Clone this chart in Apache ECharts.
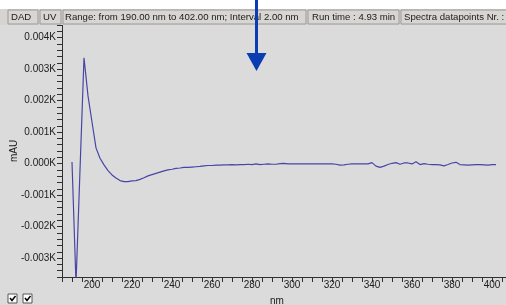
<!DOCTYPE html>
<html>
<head>
<meta charset="utf-8">
<script src="https://cdn.jsdelivr.net/npm/echarts@6/dist/echarts.min.js"></script>
<style>
  html, body {margin: 0; padding: 0; background: #dcdbdc;}
  #chart {width: 506px; height: 305px;}
</style>
</head>
<body>
<div id="chart"></div>
<script>
// DAD spectrum, 190-402 nm every 2 nm, values in K mAU
const wavelengths = [
  190, 192, 194, 196, 198, 200, 202, 204, 206, 208, 210, 212, 214, 216, 218, 220,
  222, 224, 226, 228, 230, 232, 234, 236, 238, 240, 242, 244, 246, 248, 250, 252,
  254, 256, 258, 260, 262, 264, 266, 268, 270, 272, 274, 276, 278, 280, 282, 284,
  286, 288, 290, 292, 294, 296, 298, 300, 302, 304, 306, 308, 310, 312, 314, 316,
  318, 320, 322, 324, 326, 328, 330, 332, 334, 336, 338, 340, 342, 344, 346, 348,
  350, 352, 354, 356, 358, 360, 362, 364, 366, 368, 370, 372, 374, 376, 378, 380,
  382, 384, 386, 388, 390, 392, 394, 396, 398, 400, 402,
]
const absorbance = [
  0.00005, -0.0038, -0.0002, 0.00336, 0.00215, 0.00132, 0.00050, 0.00017,
  -0.00004, -0.00022, -0.00036, -0.00046, -0.00054, -0.00057, -0.00057, -0.00055,
  -0.00054, -0.00050, -0.00045, -0.00039, -0.00035, -0.00031, -0.00027, -0.00023,
  -0.00020, -0.00018, -0.00015, -0.00014, -0.00012, -0.00012, -0.00011, -0.00010,
  -0.00009, -0.00007, -0.00006, -0.00006, -0.00005, -0.00005, -0.00004, -0.00004,
  -0.00003, -0.00004, -0.00003, -0.00003, -0.00002, -0.00003, -0.00001, -0.00003,
  -0.00002, -0.00001, -0.00002, -0.00002, 0.00000, 0.00001, -0.00001, -0.00001,
  -0.00001, -0.00001, -0.00001, -0.00001, -0.00001, -0.00001, -0.00001, -0.00001,
  -0.00001, -0.00001, -0.00002, -0.00005, -0.00004, -0.00002, -0.00001, -0.00001,
  -0.00001, -0.00001, -0.00001, 0.00003, -0.00008, -0.00012, -0.00008, -0.00003,
  0.00001, 0.00003, -0.00002, 0.00002, 0.00002, -0.00001, 0.00006, -0.00003,
  0.00000, -0.00002, -0.00003, -0.00003, -0.00004, -0.00007, -0.00003, 0.00002,
  0.00004, -0.00003, -0.00004, -0.00005, -0.00004, -0.00003, -0.00003, -0.00004,
  -0.00005, -0.00003, -0.00003,
]
const headerCells = ["DAD", "UV", "Range: from 190.00 nm to 402.00 nm; Interval 2.00 nm", "Run time : 4.93 min", "Spectra datapoints Nr. :"]

const FONT = "Liberation Sans"
const TEXT = "#202020"
const LINE = "#4646a4"
const ARROW = "#0b3db2"

// header strip: cell boxes [x, width, text x]
const cellBoxes = [[8, 30, 11], [40, 21, 43], [63, 243, 65], [308, 91, 312], [401, 110, 404]]

const graphics = [
  {type: "rect", shape: {x: 0, y: 0, width: 506, height: 9}, style: {fill: "#ffffff"}, z: 10},
  {type: "rect", shape: {x: 0, y: 9, width: 506, height: 16}, style: {fill: "#d6d4d0"}, z: 10},
]
cellBoxes.forEach(([x, w, tx], i) => {
  graphics.push({type: "rect", shape: {x: x, y: 10, width: w, height: 14}, style: {fill: "#d8d6d2", stroke: "#9a9a9a", lineWidth: 1}, z: 11})
  graphics.push({type: "text", x: tx, y: 17, style: {text: headerCells[i], font: `9.6px "${FONT}"`, fill: TEXT, verticalAlign: "middle"}, z: 12})
})
// blue arrow annotation
graphics.push({type: "line", shape: {x1: 256.5, y1: 0, x2: 256.5, y2: 56}, style: {stroke: ARROW, lineWidth: 3}, z: 20})
graphics.push({type: "polygon", shape: {points: [[246.5, 53], [266.5, 53], [256.5, 71]]}, style: {fill: ARROW}, z: 20})
// two ticked checkboxes in the bottom left corner
;[8, 23].forEach(x => {
  graphics.push({type: "rect", shape: {x: x, y: 294, width: 9, height: 9}, style: {fill: "#ffffff", stroke: "#555555", lineWidth: 1}, z: 20})
  graphics.push({type: "polyline", shape: {points: [[x + 2, 298], [x + 4, 300.5], [x + 7.5, 296]]}, style: {stroke: "#000000", lineWidth: 1.5, fill: null}, z: 21})
})

const chart = echarts.init(document.getElementById("chart"), null, {renderer: "canvas"})
chart.setOption({
  backgroundColor: "#dcdbdc",
  animation: false,
  grid: {left: 62, top: 25, width: 444, height: 252, outerBoundsMode: "none", containLabel: false},
  xAxis: {
    type: "value",
    min: 185,
    max: 407,
    interval: 5,
    name: "nm",
    nameLocation: "middle",
    nameGap: 19,
    nameMoveOverlap: false,
    nameTextStyle: {color: TEXT, fontFamily: FONT, fontSize: 10, padding: [0, 14, 0, 0]},
    axisLine: {show: true, onZero: false, lineStyle: {color: "#303030", width: 1}},
    axisTick: {show: true, length: 5, lineStyle: {color: "#303030"}},
    axisLabel: {
      color: TEXT, fontFamily: FONT, fontSize: 10, margin: 3,
      showMinLabel: true, showMaxLabel: true,
      formatter: v => (Math.round(v) % 20 === 0 ? String(Math.round(v)) : ""),
    },
    splitLine: {show: false},
  },
  yAxis: {
    type: "value",
    min: -0.0036,
    max: 0.0044,
    interval: 0.0002,
    name: "mAU",
    nameLocation: "middle",
    nameGap: 43,
    nameMoveOverlap: false,
    nameTextStyle: {color: TEXT, fontFamily: FONT, fontSize: 10},
    axisLine: {show: true, onZero: false, lineStyle: {color: "#303030", width: 1}},
    axisTick: {show: true, length: 5, lineStyle: {color: "#303030"}},
    axisLabel: {
      color: TEXT, fontFamily: FONT, fontSize: 10, margin: 6,
      formatter(v) {
        if (Math.round(v * 10000) % 10 !== 0) return ""
        return ((Math.round(v * 1000) / 1000) || 0).toFixed(3) + "K"
      },
    },
    splitLine: {show: false},
  },
  series: [
    {
      type: "line",
      data: wavelengths.map((w, i) => [w, absorbance[i]]),
      symbol: "none",
      smooth: false,
      clip: true,
      lineStyle: {color: LINE, width: 1.2},
    },
  ],
  graphic: graphics,
})
</script>
</body>
</html>
